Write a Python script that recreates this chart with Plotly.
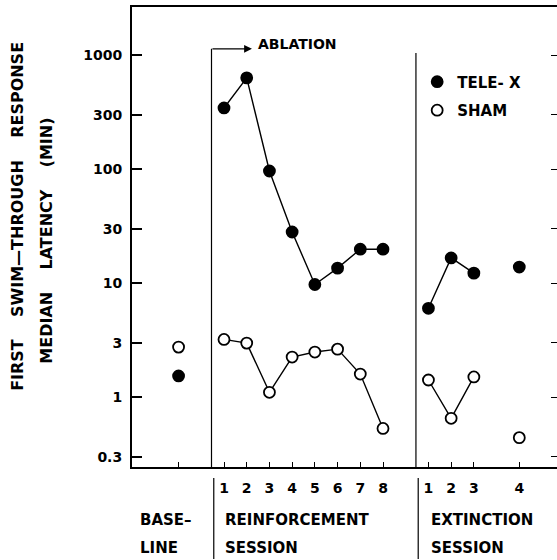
import plotly.graph_objects as go

# ---- data ----
baseline_x = [-1]
reinf_x = [1, 2, 3, 4, 5, 6, 7, 8]
ext_x = [10, 11, 12, 14]
ext_connected = 3  # first three extinction sessions joined by a line

tele_base = [1.53]
tele_reinf = [343, 630, 96, 28, 9.7, 13.5, 19.8, 19.8]
tele_ext = [6.0, 16.6, 12.2, 13.8]

sham_base = [2.74]
sham_reinf = [3.2, 2.97, 1.1, 2.24, 2.48, 2.63, 1.59, 0.53]
sham_ext = [1.41, 0.65, 1.5, 0.44]

y_tickvals = [0.3, 1, 3, 10, 30, 100, 300, 1000]
y_ticktext = ["0.3", "1", "3", "10", "30", "100", "300", "1000"]
x_tickvals = baseline_x + reinf_x + ext_x
x_ticktext = [""] + [str(i) for i in range(1, 9)] + ["1", "2", "3", "4"]

FONT = "DejaVu Sans"
W = "bold"


def line_xy(base, reinf, ext):
    xs = reinf_x + [None] + ext_x[:ext_connected]
    ys = reinf + [None] + ext[:ext_connected]
    return xs, ys


def all_xy(base, reinf, ext):
    return baseline_x + reinf_x + ext_x, base + reinf + ext


series = [
    ("TELE- X", tele_base, tele_reinf, tele_ext, "black"),
    ("SHAM", sham_base, sham_reinf, sham_ext, "white"),
]

fig = go.Figure()

for name, base, reinf, ext, fill in series:
    lx, ly = line_xy(base, reinf, ext)
    fig.add_trace(go.Scatter(x=lx, y=ly, mode="lines", connectgaps=False,
                             line=dict(color="black", width=1.4),
                             showlegend=False, hoverinfo="skip"))
for name, base, reinf, ext, fill in series:
    ax, ay = all_xy(base, reinf, ext)
    fig.add_trace(go.Scatter(x=ax, y=ay, mode="markers", name=name,
                             legendgroup=name,
                             marker=dict(size=11, color=fill, symbol="circle",
                                         line=dict(color="black", width=1.8))))

# invisible trace for right-hand tick axis
fig.add_trace(go.Scatter(x=reinf_x, y=tele_reinf, yaxis="y2", mode="markers",
                         marker=dict(opacity=0), showlegend=False, hoverinfo="skip"))

yrange = [-0.614, 3.421]
fig.update_layout(
    width=557, height=560,
    margin=dict(l=132, r=0, t=7, b=93),
    paper_bgcolor="white", plot_bgcolor="white",
    font=dict(family=FONT, color="black", size=14, weight=W),
    xaxis=dict(range=[-3.05, 15.66], showgrid=False, zeroline=False,
               showline=True, linecolor="black", linewidth=1.8, mirror=True,
               ticks="inside", ticklen=5, tickwidth=1.2, tickcolor="black",
               tickvals=x_tickvals, ticktext=x_ticktext,
               tickfont=dict(size=14, family=FONT, weight=W), ticklabelstandoff=7),
    yaxis=dict(type="log", range=yrange, showgrid=False, zeroline=False,
               showline=True, linecolor="black", linewidth=2,
               ticks="inside", ticklen=10, tickwidth=1.6, tickcolor="black",
               tickvals=y_tickvals, ticktext=y_ticktext,
               tickfont=dict(size=14, family=FONT, weight=W), ticklabelstandoff=5),
    yaxis2=dict(type="log", range=yrange, overlaying="y", side="right",
                showgrid=False, zeroline=False, showline=False,
                ticks="inside", ticklen=6, tickwidth=1.4, tickcolor="black",
                tickvals=y_tickvals, showticklabels=False),
    legend=dict(x=0.671, y=0.873, xanchor="left", yanchor="top",
                bgcolor="rgba(0,0,0,0)", font=dict(size=15, family=FONT, weight=W),
                tracegroupgap=6, itemwidth=30),
    showlegend=True,
)

# session separators
for xv, ytop in [(0.45, 0.909), (9.45, 0.90)]:
    fig.add_shape(type="line", xref="x", yref="paper", x0=xv, x1=xv,
                  y0=0, y1=ytop, line=dict(color="black", width=1.2))
    fig.add_shape(type="line", xref="x", yref="paper", x0=xv + 0.1, x1=xv + 0.1,
                  y0=-0.024, y1=-0.2, line=dict(color="black", width=1.2))

# ablation arrow
fig.add_annotation(xref="x", yref="paper", x=2.23, y=0.909, ax=-41, ay=0,
                   text="", showarrow=True, arrowhead=2, arrowsize=1.3,
                   arrowwidth=1.2, arrowcolor="black")
fig.add_annotation(xref="x", yref="paper", x=2.4, y=0.919, text="ABLATION",
                   showarrow=False, xanchor="left", yanchor="middle",
                   font=dict(size=14, family=FONT, weight=W))

# bottom category labels
for txt, xp, yp in [("BASE\u2013", 0.014, -0.115), ("LINE", 0.014, -0.176),
                    ("REINFORCEMENT", 0.214, -0.115), ("SESSION", 0.214, -0.176),
                    ("EXTINCTION", 0.699, -0.115), ("SESSION", 0.699, -0.176)]:
    fig.add_annotation(xref="paper", yref="paper", x=xp, y=yp, text=txt,
                       showarrow=False, xanchor="left", yanchor="middle",
                       font=dict(size=15, family=FONT, weight=W))

# y-axis titles
fig.add_annotation(xref="paper", yref="paper", x=-0.268, y=0.544,
                   text="FIRST    SWIM\u2014THROUGH    RESPONSE", textangle=-90,
                   showarrow=False, xanchor="center", yanchor="middle",
                   font=dict(size=16, family=FONT, weight=W))
fig.add_annotation(xref="paper", yref="paper", x=-0.2, y=0.492,
                   text="MEDIAN    LATENCY    (MIN)", textangle=-90,
                   showarrow=False, xanchor="center", yanchor="middle",
                   font=dict(size=16, family=FONT, weight=W))

fig.write_html("out.html",
               config={"displayModeBar": False},
               post_script="document.body.style.margin='0';"
                           "document.body.style.overflow='hidden';")
